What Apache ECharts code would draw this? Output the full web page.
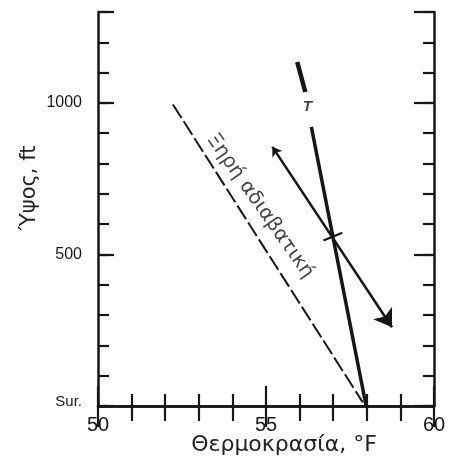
<!DOCTYPE html>
<html>
<head>
<meta charset="utf-8">
<script src="https://cdn.jsdelivr.net/npm/echarts@6/dist/echarts.min.js"></script>
<style>html,body{margin:0;padding:0;background:#fff;}#c{width:452px;height:468px;}</style>
</head>
<body>
<div id="c"></div>
<script>
// ---- data ----
const tempTickLabels = ['50', '55', '60'];
const heightTickLabels = { 0: 'Sur.', 500: '500', 1000: '1000' };
// environmental temperature profile T (drawn in two pieces around the "T" label)
const envUpperTemp = [55.93, 56.17];
const envUpperHeight = [1135, 1036];
const envLowerTemp = [56.35, 57.98];
const envLowerHeight = [921, 0];
// dry adiabatic (dashed)
const dryTemp = [52.23, 57.88];
const dryHeight = [995, 12];
// double-headed arrow line
const arrowTemp = [55.19, 58.75];
const arrowHeight = [855, 260];
// short cross mark at the intersection
const crossTemp = [56.71, 57.27];
const crossHeight = [546, 572];
// text annotations
const tLabel = { text: 'T', temp: 56.23, height: 987 };
const dryLabel = { text: 'Ξηρή αδιαβατική', temp: 54.82, height: 660 };

const ink = '#161616';
const zip = (a, b) => a.map((v, i) => [v, b[i]]);

const chart = echarts.init(document.getElementById('c'), null, { renderer: 'canvas' });

function xAx(pos, showLabel, majorLen, minorLen) {
  return {
    type: 'value', position: pos, min: 50, max: 60, interval: 5,
    axisLine: { show: true, lineStyle: { color: ink, width: 2.5 } },
    axisTick: { show: true, inside: true, length: majorLen, lineStyle: { color: ink, width: 2.2 } },
    minorTick: { show: true, splitNumber: 5, length: minorLen, lineStyle: { color: ink, width: 2.2 } },
    splitLine: { show: false }, minorSplitLine: { show: false },
    axisLabel: {
      show: showLabel, margin: 9, color: ink, fontSize: 20, fontFamily: 'Liberation Sans',
      formatter: v => tempTickLabels[Math.round((v - 50) / 5)] || ''
    }
  };
}
function yAx(pos, interval, len, showLine, showLabel) {
  return {
    type: 'value', position: pos, min: 0, max: 1300, interval: interval,
    axisLine: { show: showLine, onZero: false, lineStyle: { color: ink, width: 2.5 } },
    axisTick: { show: true, inside: true, length: len, lineStyle: { color: ink, width: 2.2 } },
    splitLine: { show: false },
    axisLabel: {
      show: showLabel, margin: 16, color: ink, fontSize: 16, fontFamily: 'Liberation Sans',
      formatter: v => v === 0 ? '{s|' + heightTickLabels[0] + '}' : (heightTickLabels[v] || ''),
      rich: { s: { fontSize: 15, fontFamily: 'Liberation Sans', color: ink, padding: [0, 0, 9, 0] } }
    }
  };
}

const option = {
  backgroundColor: '#fff',
  animation: false,
  grid: { left: 98, right: 18, top: 12, bottom: 62, containLabel: false },
  xAxis: [xAx('bottom', true, 20, 12), xAx('top', false, 21, 15)],
  yAxis: [
    yAx('left', 100, 11, true, true),
    yAx('left', 500, 16, false, false),
    yAx('right', 100, 11, true, false),
    yAx('right', 500, 20, false, false)
  ],
  graphic: [
    { type: 'text', x: 284, y: 445, style: { text: 'Θερμοκρασία, °F', fill: '#222', font: '22px "DejaVu Sans"', textAlign: 'center', textVerticalAlign: 'middle' } },
    { type: 'text', x: 30, y: 188, rotation: Math.PI / 2, style: { text: 'Ύψος, ft', fill: '#222', font: '21px "DejaVu Sans"', textAlign: 'center', textVerticalAlign: 'middle' } }
  ],
  series: [
    { type: 'line', data: zip(envUpperTemp, envUpperHeight), symbol: 'none', lineStyle: { color: ink, width: 4.5 } },
    { type: 'line', data: zip(envLowerTemp, envLowerHeight), symbol: 'none', lineStyle: { color: ink, width: 3.5 } },
    { type: 'line', data: zip(dryTemp, dryHeight), symbol: 'none', lineStyle: { color: ink, width: 2, type: [16, 4] } },
    { type: 'line', data: zip(crossTemp, crossHeight), symbol: 'none', lineStyle: { color: ink, width: 2.2 } },
    {
      type: 'lines', coordinateSystem: 'cartesian2d',
      symbol: ['arrow', 'arrow'], symbolSize: [9, 17],
      lineStyle: { color: ink, width: 2.5, opacity: 1 },
      itemStyle: { color: ink },
      data: [{ coords: zip(arrowTemp, arrowHeight) }]
    },
    {
      type: 'scatter', symbolSize: 0, silent: true,
      data: [[tLabel.temp, tLabel.height]],
      label: { show: true, position: 'inside', formatter: tLabel.text, color: ink, fontSize: 15, fontStyle: 'italic', fontWeight: 'bold', fontFamily: 'Liberation Sans' }
    },
    {
      type: 'scatter', symbolSize: 0, silent: true,
      data: [[dryLabel.temp, dryLabel.height]],
      label: { show: true, position: 'inside', rotate: -55, formatter: dryLabel.text, color: ink, fontSize: 20, fontFamily: 'DejaVu Sans' }
    }
  ]
};
chart.setOption(option);
</script>
</body>
</html>
